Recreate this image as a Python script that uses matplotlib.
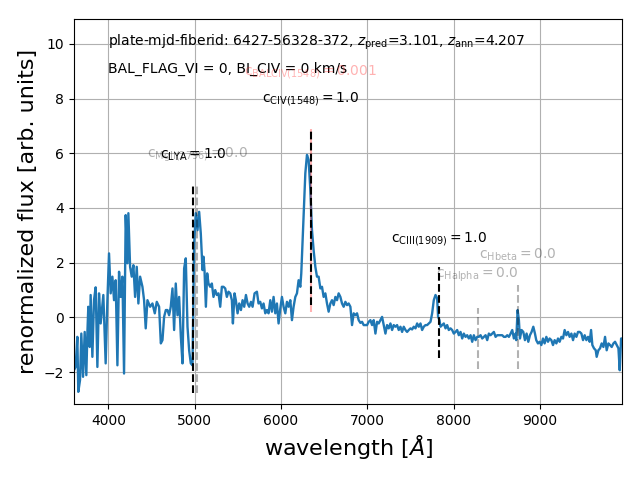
import numpy as np
import matplotlib
matplotlib.use("Agg")
import matplotlib.pyplot as plt

# spectrum (wavelength in Angstrom, renormalized flux)
wave = [3602, 3621, 3641, 3652, 3672, 3687, 3707, 3726, 3745, 3757, 3768, 3784, 3795, 3815,
        3834, 3853, 3873, 3892, 3911, 3942, 3969, 3989, 4008, 4027, 4047, 4066, 4085, 4105,
        4124, 4143, 4163, 4182, 4201, 4221, 4232, 4252, 4271, 4290, 4310, 4329, 4348, 4368,
        4395, 4414, 4433, 4453, 4484, 4511, 4538, 4561, 4588, 4608, 4627, 4646, 4666, 4685,
        4704, 4723, 4743, 4762, 4781, 4801, 4820, 4840, 4859, 4878, 4897, 4917, 4936, 4955,
        4975, 4994, 5013, 5033, 5052, 5071, 5091,
        5102, 5114, 5130, 5145, 5160, 5180, 5199, 5218, 5238, 5257, 5276, 5296, 5315, 5334,
        5354, 5373, 5392, 5412, 5431, 5443, 5462, 5477, 5497, 5516, 5536, 5555, 5574, 5594,
        5613, 5632, 5652, 5671, 5694, 5721, 5740, 5760, 5779, 5798, 5818, 5837, 5856, 5876,
        5895, 5914, 5934, 5953, 5972, 5992, 6011, 6030, 6050, 6069, 6088, 6108, 6127, 6146,
        6166, 6185, 6204, 6224, 6235, 6251, 6266, 6282, 6301, 6320, 6340, 6359, 6378, 6398,
        6417, 6436, 6456, 6475, 6494, 6514, 6533, 6552, 6572, 6591, 6610, 6630, 6649, 6668,
        6688, 6707, 6726, 6746, 6765, 6784, 6804, 6823, 6842, 6862, 6881, 6900, 6920, 6939,
        6958,
        6997, 7016, 7036, 7055, 7074, 7094, 7113, 7132, 7152, 7171, 7190, 7210, 7229, 7248,
        7268, 7287, 7306, 7326, 7345, 7364, 7384, 7403, 7422, 7442, 7461, 7480, 7500, 7519,
        7538, 7558, 7577, 7596, 7616, 7635, 7654, 7674, 7693, 7712, 7732, 7751, 7770, 7790,
        7809, 7820, 7836, 7848, 7867, 7886, 7906, 7925, 7944, 7964, 7983, 8002, 8022, 8041,
        8060, 8080, 8099, 8118, 8138, 8157, 8176, 8196, 8215, 8234, 8254, 8273, 8292, 8312,
        8331, 8350, 8370, 8389, 8408, 8428, 8447, 8466, 8486, 8505,
        8563, 8582, 8602, 8621, 8640, 8660, 8679, 8698, 8718, 8725, 8741, 8756, 8768, 8787,
        8807, 8826, 8845, 8865, 8884, 8903, 8923, 8942, 8957, 8977, 8996, 9016, 9035, 9054,
        9074, 9093, 9112, 9132, 9151, 9170, 9190, 9209, 9228, 9248, 9267, 9286, 9306, 9325,
        9344, 9364, 9383, 9402, 9422, 9441, 9460, 9480, 9499, 9518, 9538, 9557, 9576, 9592,
        9607, 9626, 9646, 9657, 9677, 9696, 9715, 9735, 9754, 9773, 9793, 9812, 9831, 9851,
        9870, 9889, 9909, 9924, 9940, 9955]
flux = [-1.93, -1.81, -0.71, -2.72, -2.29, -0.59, -2.17, -0.53, -2.11, -0.59, 0.39, -1.08, 0.82, -1.44,
        0.63, 1.10, -1.81, 0.88, -0.22, 0.82, -1.68, 0.63, 2.34, 0.88, 1.49, 0.63, 1.36, -1.75,
        1.67, 0.75, 1.49, -2.05, 3.74, 1.98, 3.81, 1.85, 1.49, 1.91, 0.75, 1.85, 0.51, 1.49,
        1.12, 0.63, -0.40, 0.63, 0.39, 0.51, 0.15, 0.57, 0.39, -0.95, -0.83, 0.02, 0.27, 0.27,
        0.08, 0.39, 1.06, -0.46, 1.24, 0.08, 0.75, -0.71, -1.68, 1.79, 2.16, -0.34, -1.20, -1.68,
        -1.75, 2.71, 3.81, 3.19, 3.86, 3.07, 1.73,
        2.22, 1.73, 0.39, 1.61, 1.24, 1.12, 1.24, 0.75, 1.00, 0.82, 0.88, 0.39, 1.12, 1.12,
        1.06, 0.75, 0.94, 0.88, 0.63, -0.22, 0.88, 0.63, 0.15, 0.51, 0.27, 0.63, 0.39, 0.82,
        0.51, 0.39, 0.57, 0.39, 0.88, 0.94, 0.51, 0.57, 0.33, 0.51, 0.15, 0.27, 0.15, 0.63,
        0.21, 0.75, 0.15, 0.51, -0.22, 0.33, 0.75, 0.39, 0.15, 0.57, 0.39, 0.63, -0.10, 0.39,
        0.75, 0.88, 1.36, 1.12, 1.61, 2.83, 4.05, 5.27, 5.94, 5.76, 4.66, 3.19, 2.46, 1.85,
        1.49, 1.49, 1.06, 1.12, 0.75, 0.88, 0.51, 0.21, 0.51, 0.63, 0.45, 0.75, 0.63, 0.88,
        0.75, 0.51, 0.39, 0.57, 0.45, 0.51, 0.39, -0.28, 0.15, 0.08, 0.15, -0.10, -0.20, -0.16,
        -0.28,
        -0.28, -0.16, -0.10, -0.28, -0.10, -0.59, -0.16, -0.22, -0.10, 0.02, -0.28, -0.59, -0.28, -0.40,
        -0.22, -0.46, -0.28, -0.34, -0.28, -0.46, -0.34, -0.53, -0.34, -0.46, -0.53, -0.46, -0.40, -0.44,
        -0.34, -0.40, -0.22, -0.34, -0.22, -0.46, -0.34, -0.28, -0.28, -0.22, -0.16, 0.15, 0.63, 0.82,
        0.70, 0.02, -0.10, -0.34, -0.28, -0.22, -0.40, -0.28, -0.46, -0.40, -0.46, -0.59, -0.53, -0.46,
        -0.65, -0.53, -0.77, -0.59, -0.71, -0.65, -0.77, -0.65, -0.89, -0.65, -0.83, -0.71, -0.71, -0.65,
        -0.77, -0.71, -0.65, -0.83, -0.59, -0.65, -0.59, -0.53, -0.71, -0.65,
        -0.65, -0.71, -0.71, -0.65, -0.71, -0.59, -0.46, -0.77, -0.59, -0.83, 0.27, -0.10, -0.77, -0.46,
        -0.53, -0.83, -0.59, -0.89, -0.65, -0.53, -0.34, -0.59, -0.83, -0.95, -0.89, -1.01, -0.77, -0.95,
        -0.71, -0.89, -0.77, -0.83, -1.01, -0.83, -0.95, -0.77, -0.89, -0.71, -0.77, -0.46, -0.65, -0.53,
        -0.71, -0.59, -0.83, -0.59, -0.71, -0.53, -0.53, -0.59, -0.83, -0.65, -0.83, -0.71, -0.89, -0.46,
        -1.01, -1.13, -1.20, -1.44, -1.20, -1.13, -0.95, -1.08, -0.71, -1.20, -0.95, -1.01, -1.08, -0.95,
        -0.89, -1.01, -1.13, -1.93, -0.77, -0.77]

# emission line markers: name, observed wavelength, coefficient, vline extent, label height
line_names = ["LYA", "MgII(2796)", "CIV(1548)", "BALCIV(1548)", "CIII(1909)", "Halpha", "Hbeta"]
line_wave = [4985, 5028, 6345, 6345, 7826, 8278, 8740]
line_coef = ["1.0", "0.0", "1.0", "0.001", "1.0", "0.0", "0.0"]
line_ymin = [-2.75, -2.75, 0.45, 0.2, -1.5, -1.9, -1.9]
line_ymax = [4.85, 4.85, 6.9, 6.9, 1.85, 0.35, 1.2]
label_y = [5.93, 5.93, 7.98, 8.98, 2.85, 1.55, 2.3]
line_on = [True, False, True, False, True, False, False]

plate_info = "6427-56328-372"
z_pred = 3.101
z_ann = 4.207
bal_flag = 0
bi_civ = 0

fig, ax = plt.subplots(figsize=(6.4, 4.8), dpi=100)
fig.subplots_adjust(left=0.1156, right=0.9725, bottom=0.158, top=0.96)

ax.plot(wave, flux, color="tab:blue", lw=1.7, zorder=2)

# draw the faint ones first, then the active ones on top
order = sorted(range(len(line_names)), key=lambda i: line_on[i])
for i in order:
    if line_on[i]:
        col, a = "k", 1.0
    elif line_names[i].startswith("BAL"):
        col, a = "r", 0.3
    else:
        col, a = "k", 0.3
    ax.vlines(line_wave[i], line_ymin[i], line_ymax[i], colors=col, alpha=a,
              linestyles="--", lw=1.5, zorder=3)
    ax.text(line_wave[i], label_y[i], r"c$_{\rm %s} = %s$" % (line_names[i], line_coef[i]),
            color=col, alpha=a, ha="center", va="center", fontsize=10, zorder=4)

ax.text(4000, 10.05, "plate-mjd-fiberid: %s, $z_{\\rm pred}$=%.3f, $z_{\\rm ann}$=%.3f"
        % (plate_info, z_pred, z_ann), fontsize=10, va="center", ha="left")
ax.text(4000, 9.08, "BAL_FLAG_VI = %d, BI_CIV = %d km/s" % (bal_flag, bi_civ),
        fontsize=10, va="center", ha="left")

ax.set_xlim(wave[0], wave[-1])
ax.set_ylim(-3.17, 10.9)
ax.grid(True)
ax.set_axisbelow(True)
ax.set_xlabel(r"wavelength [$\AA$]", fontsize=16)
ax.set_ylabel("renormalized flux [arb. units]", fontsize=16)

fig.savefig("out.png", dpi=100)
